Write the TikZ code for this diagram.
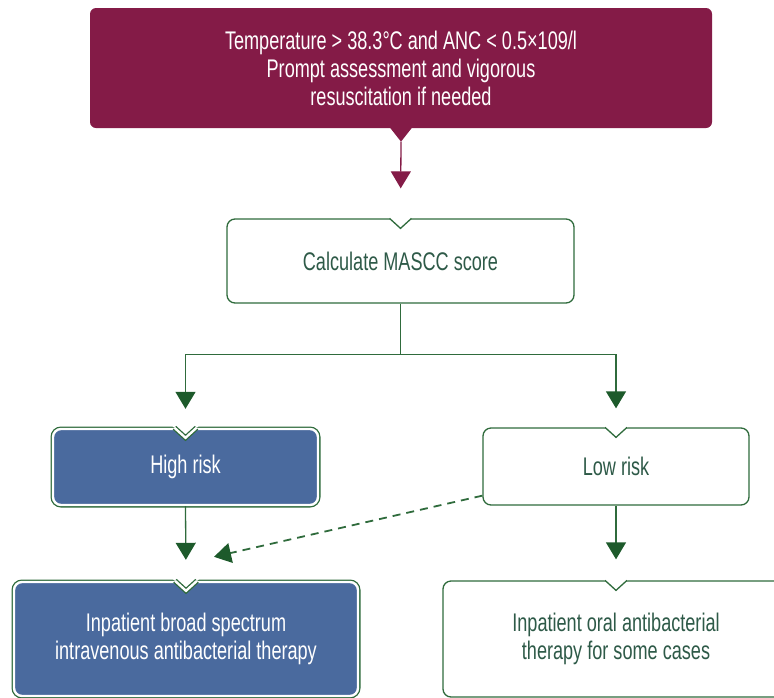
\documentclass[tikz,border=0pt]{standalone}
\usepackage{fontspec}
\setmainfont[FakeStretch=0.71]{Liberation Sans}
\usetikzlibrary{arrows.meta}

\definecolor{maroon}{HTML}{841B47}
\definecolor{boxgreen}{HTML}{2F6B3C}
\definecolor{tipgreen}{HTML}{1D5A2B}
\definecolor{boxblue}{HTML}{4A6A9E}
\definecolor{textgreen}{HTML}{2E5A48}

\tikzset{
  box/.style={draw=boxgreen, line width=1.3pt, rounded corners=8pt, fill=white,
    text=textgreen, align=center, inner sep=0pt,
    font=\fontsize{25.5}{28}\selectfont},
  bluebox/.style={box, draw=white, line width=2.4pt, fill=boxblue, text=white,
    preaction={draw=boxgreen, line width=5pt}},
  topbox/.style={box, draw=none, fill=maroon, text=white, rounded corners=6pt},
  vline/.style={draw=boxgreen, line width=1.3pt},
  bluevline/.style={draw=white, line width=2.4pt, preaction={draw=boxgreen, line width=5pt}},
  flow/.style={draw=boxgreen, line width=1.3pt,
    -{Triangle[width=20pt,length=17pt,color=tipgreen]}},
  maroonflow/.style={draw=maroon, line width=1.3pt,
    -{Triangle[width=20pt,length=17pt]}}
}

% notch at the top middle of a box
\newcommand{\boxnotch}[2]{%
  \fill[white] ([xshift=-14.5pt,yshift=3pt]#1.north) -- ([xshift=14.5pt,yshift=3pt]#1.north)
    -- ([yshift=-10pt]#1.north) -- cycle;
  \draw[#2] ([xshift=-11pt]#1.north) -- ([yshift=-10pt]#1.north)
    -- ([xshift=11pt]#1.north);
}

\begin{document}
\begin{tikzpicture}[x=1pt, y=-1pt]
  \useasboundingbox (0,0) rectangle (774,697);
  \clip (0,0) rectangle (774,697);

  % boxes
  \node[topbox, minimum width=622pt, minimum height=120pt] (fever) at (401,68)
    {Temperature > 38.3°C and ANC < 0.5×109/l\\Prompt assessment and vigorous\\resuscitation if needed};
  \node[box, minimum width=347pt, minimum height=84pt] (mascc) at (400.5,261)
    {Calculate MASCC score};
  \node[bluebox, minimum width=265pt, minimum height=76pt] (high) at (185.5,467)
    {High risk};
  \node[box, minimum width=266pt, minimum height=77pt] (low) at (616,466.5)
    {Low risk};
  \node[bluebox, minimum width=344pt, minimum height=114pt] (ivtherapy) at (186,639)
    {Inpatient broad spectrum\\intravenous antibacterial therapy};
  \node[box, minimum width=346pt, minimum height=116pt] (oraltherapy) at (616,639)
    {Inpatient oral antibacterial\\therapy for some cases};

  \boxnotch{mascc}{vline}
  \boxnotch{low}{vline}
  \boxnotch{oraltherapy}{vline}
  \boxnotch{high}{bluevline}
  \boxnotch{ivtherapy}{bluevline}

  % pointer of the top box
  \fill[maroon] ([xshift=-11pt,yshift=1pt]fever.south) -- ([xshift=11pt,yshift=1pt]fever.south)
    -- ([yshift=-13pt]fever.south) coordinate (pointer) -- cycle;

  % connectors
  \draw[maroonflow, shorten >=30pt] (pointer) -- (mascc.north);
  \coordinate (split) at ([yshift=-51pt]mascc.south);
  \draw[vline] (mascc.south) -- (split);
  \draw[flow, shorten >=19pt] (split) -| (high.north);
  \draw[flow, shorten >=19pt] (split) -| (low.north);
  \draw[flow, shorten >=21pt] (high.south) -- (ivtherapy.north);
  \draw[flow, shorten >=21pt] (low.south) -- (oraltherapy.north);
  \coordinate (dashend) at ([xshift=28pt,yshift=24pt]ivtherapy.north);
  \draw[flow, line width=1.8pt, dash pattern=on 8pt off 6pt] ([yshift=10pt]low.south west) -- (dashend);
\end{tikzpicture}
\end{document}
